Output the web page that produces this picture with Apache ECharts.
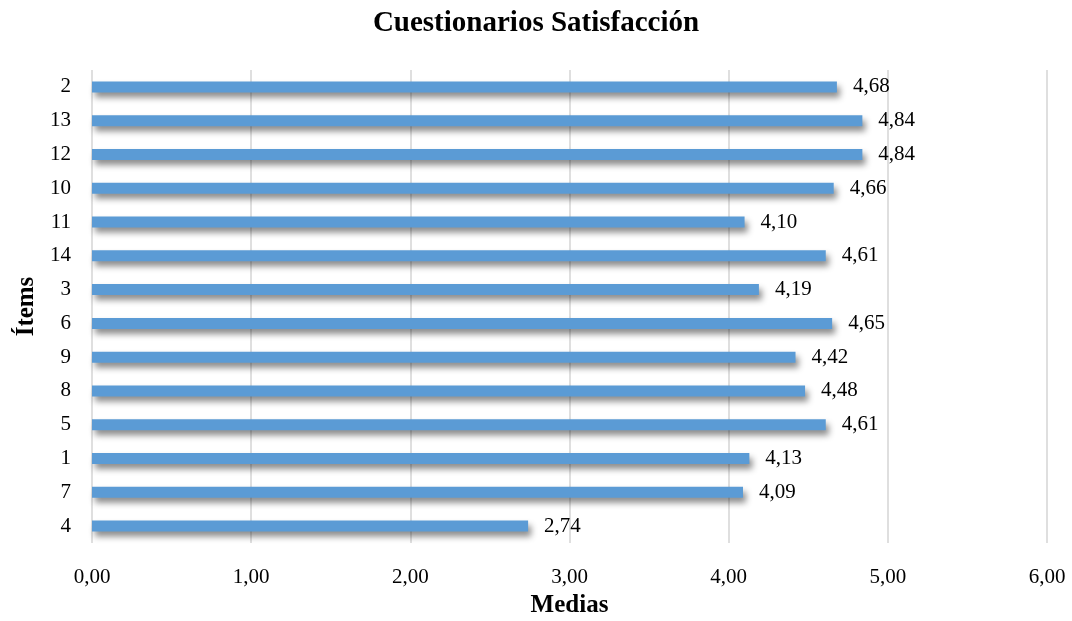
<!DOCTYPE html>
<html>
<head>
<meta charset="utf-8">
<script src="https://cdn.jsdelivr.net/npm/echarts@6/dist/echarts.min.js"></script>
<style>
  html, body { margin: 0; padding: 0; background: #fff; }
  #chart { width: 1072px; height: 621px; }
</style>
</head>
<body>
<div id="chart"></div>
<script>
// items listed bottom to top (category axis is drawn upward)
let items = ['4', '7', '1', '5', '8', '9', '6', '3', '14', '11', '10', '12', '13', '2'];
let medias = [2.74, 4.09, 4.13, 4.61, 4.48, 4.42, 4.65, 4.19, 4.61, 4.10, 4.66, 4.84, 4.84, 4.68];
let xTicks = [0, 1, 2, 3, 4, 5, 6];

const serif = '"Liberation Serif", "Times New Roman", serif';

let chart = echarts.init(document.getElementById('chart'));

let fmt = function (v) {
  return Number(v).toFixed(2).replace('.', ',');
};

chart.setOption({
  animation: false,
  title: {
    text: 'Cuestionarios Satisfacción',
    left: 'center',
    top: 4,
    textStyle: {
      fontFamily: serif,
      fontSize: 29,
      fontWeight: 'bold',
      color: '#000'
    }
  },
  grid: {
    left: 92,
    right: 25,
    top: 70,
    bottom: 78,
    outerBoundsMode: 'none'
  },
  xAxis: {
    type: 'value',
    min: xTicks[0],
    max: xTicks[xTicks.length - 1],
    interval: 1,
    name: 'Medias',
    nameLocation: 'middle',
    nameGap: 50,
    nameTextStyle: {
      fontFamily: serif,
      fontSize: 25,
      fontWeight: 'bold',
      color: '#000'
    },
    axisLine: { show: false },
    axisTick: { show: false },
    axisLabel: {
      fontFamily: serif,
      fontSize: 21,
      color: '#000',
      margin: 24,
      formatter: fmt
    },
    splitLine: {
      show: true,
      lineStyle: { color: '#d4d4d4', width: 1.5 }
    }
  },
  yAxis: {
    type: 'category',
    data: items,
    name: 'Ítems',
    nameLocation: 'middle',
    nameGap: 52,
    nameTextStyle: {
      fontFamily: serif,
      fontSize: 25,
      fontWeight: 'bold',
      color: '#000'
    },
    axisLine: { show: false },
    axisTick: { show: false },
    axisLabel: {
      fontFamily: serif,
      fontSize: 21,
      color: '#000',
      margin: 21
    }
  },
  series: [{
    type: 'bar',
    data: medias,
    barWidth: 11,
    itemStyle: {
      color: '#5b9bd5',
      shadowColor: 'rgba(0,0,0,0.45)',
      shadowBlur: 6,
      shadowOffsetX: 3,
      shadowOffsetY: 5
    },
    label: {
      show: true,
      position: 'right',
      distance: 16,
      fontFamily: serif,
      fontSize: 21,
      color: '#000',
      formatter: function (p) { return fmt(p.value); }
    }
  }]
});
</script>
</body>
</html>
